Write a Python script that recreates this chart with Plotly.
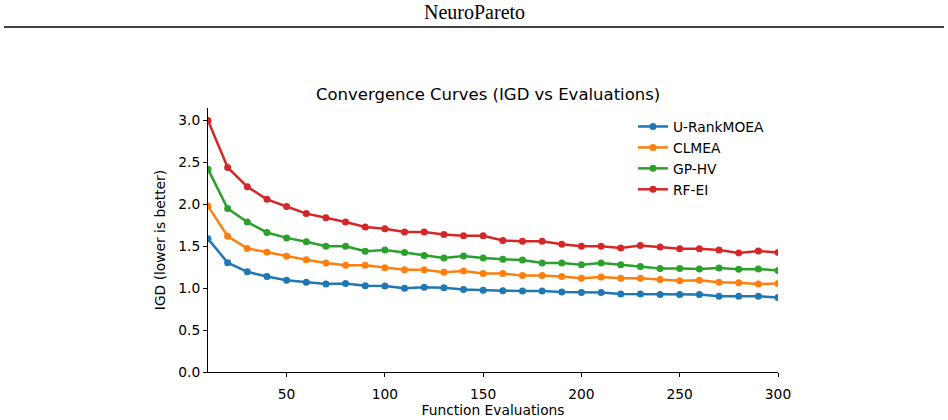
import plotly.graph_objects as go

evals = list(range(10, 301, 10))

u_rank = [1.59, 1.305, 1.195, 1.14, 1.095, 1.07, 1.05, 1.055, 1.03, 1.025,
          1.00, 1.01, 1.005, 0.985, 0.975, 0.97, 0.965, 0.965, 0.955, 0.95,
          0.95, 0.93, 0.93, 0.925, 0.925, 0.925, 0.905, 0.905, 0.905, 0.89]
clmea = [1.98, 1.62, 1.475, 1.43, 1.38, 1.34, 1.30, 1.275, 1.275, 1.245,
         1.22, 1.22, 1.19, 1.205, 1.175, 1.175, 1.15, 1.15, 1.14, 1.12,
         1.135, 1.12, 1.12, 1.105, 1.09, 1.095, 1.07, 1.065, 1.05, 1.055]
gp_hv = [2.42, 1.95, 1.79, 1.665, 1.60, 1.555, 1.50, 1.50, 1.44, 1.455,
         1.425, 1.39, 1.36, 1.385, 1.36, 1.345, 1.335, 1.30, 1.30, 1.28,
         1.30, 1.28, 1.26, 1.235, 1.235, 1.23, 1.24, 1.225, 1.23, 1.21]
rf_ei = [3.0, 2.44, 2.21, 2.06, 1.975, 1.89, 1.84, 1.79, 1.73, 1.71,
         1.67, 1.67, 1.64, 1.625, 1.625, 1.57, 1.56, 1.56, 1.525, 1.50,
         1.50, 1.48, 1.51, 1.49, 1.47, 1.47, 1.455, 1.42, 1.445, 1.425]

series = [("U-RankMOEA", u_rank, "#1f77b4"),
          ("CLMEA", clmea, "#ff7f0e"),
          ("GP-HV", gp_hv, "#2ca02c"),
          ("RF-EI", rf_ei, "#d62728")]

y_ticks = [0.0, 0.5, 1.0, 1.5, 2.0, 2.5, 3.0]
x_ticks = [50, 100, 150, 200, 250, 300]

FONT = "DejaVu Sans"
FS = 13.8

fig = go.Figure()
for name, vals, color in series:
    fig.add_trace(go.Scatter(
        x=evals, y=vals, name=name, mode="lines+markers",
        line=dict(color=color, width=2.5),
        marker=dict(color=color, size=7),
    ))

W, H = 948, 420
L, R, T, B = 208, 170, 108, 48
pw, ph = W - L - R, H - T - B

def px_x(p):
    return (p - L) / pw

def px_y(p):
    return (H - B - p) / ph

fig.update_layout(
    width=W, height=H,
    margin=dict(l=L, r=R, t=T, b=B),
    paper_bgcolor="white", plot_bgcolor="white",
    font=dict(family=FONT, size=FS, color="black"),
    showlegend=True,
    legend=dict(x=px_x(633), y=px_y(111), xanchor="left", yanchor="top",
                bgcolor="rgba(0,0,0,0)", borderwidth=0,
                font=dict(family=FONT, size=FS), tracegroupgap=0),
    xaxis=dict(range=[10, 300], tickvals=x_ticks, ticks="outside", ticklen=4,
               tickwidth=1, tickcolor="black", showline=True, linecolor="black",
               linewidth=1, showgrid=False, zeroline=False, automargin=False,
               ticklabelstandoff=5,
               title=dict(text="Function Evaluations", standoff=2,
                          font=dict(family=FONT, size=FS))),
    yaxis=dict(range=[0, 3.15], tickvals=y_ticks, tickformat=".1f",
               ticks="outside", ticklen=4, tickwidth=1, tickcolor="black",
               showline=True, linecolor="black", linewidth=1, showgrid=False,
               zeroline=False, automargin=False,
               title=dict(text="IGD (lower is better)", standoff=9,
                          font=dict(family=FONT, size=FS))),
)

fig.add_annotation(text="Convergence Curves (IGD vs Evaluations)",
                   xref="paper", yref="paper", x=px_x(488), y=px_y(94),
                   xanchor="center", yanchor="middle", showarrow=False,
                   font=dict(family=FONT, size=16.5, color="black"))

fig.add_annotation(text="NeuroPareto", xref="paper", yref="paper",
                   x=px_x(474), y=px_y(12), xanchor="center", yanchor="middle",
                   showarrow=False,
                   font=dict(family="Liberation Serif", size=20, color="black"))

fig.add_shape(type="line", xref="paper", yref="paper",
              x0=px_x(4), x1=px_x(944), y0=px_y(27), y1=px_y(27),
              line=dict(color="black", width=1.5))

fig.write_html("out.html")
